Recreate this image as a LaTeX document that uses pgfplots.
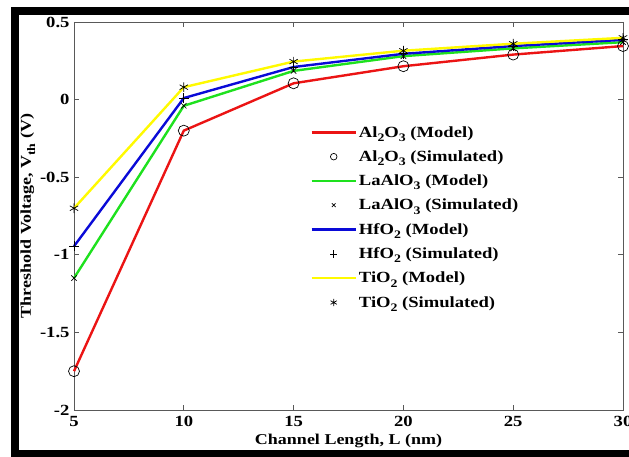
\documentclass[border=0pt]{standalone}
\usepackage{fontspec}
\setmainfont{Liberation Serif}[FakeStretch=1.2]
\usepackage{pgfplots}
\pgfplotsset{compat=1.18}
\newcommand{\sub}[1]{\raisebox{-0.6ex}{\fontsize{11.5}{11.5}\selectfont #1}}
\definecolor{mred}{RGB}{235,20,20}
\definecolor{mgreen}{RGB}{30,225,30}
\definecolor{mblue}{RGB}{10,10,215}
\definecolor{myellow}{RGB}{255,250,0}
\pgfplotsset{
  linleg/.style={legend image code/.code={\draw[##1] (0pt,0pt) -- (44pt,0pt);}},
  markleg/.style={legend image code/.code={\draw[##1, mark size=#1] plot coordinates {(22pt,0pt)};}},
}
\begin{document}
\begin{tikzpicture}
\begin{axis}[
  width=549pt, height=388pt, scale only axis,
  xmin=5, xmax=30, ymin=-2, ymax=0.5,
  xtick={5,10,15,20,25,30},
  xticklabels={5,10,15,20,25,30},
  ytick={-2,-1.5,-1,-0.5,0,0.5},
  yticklabels={-2,-1.5,-1,-0.5,0,0.5},
  tick align=inside,
  major tick length=5pt,
  axis line style={gray!70!black, line width=0.7pt},
  every tick/.style={gray!70!black, line width=0.7pt},
  tick label style={font=\fontsize{15.5}{18}\selectfont\bfseries},
  xticklabel style={yshift=-3pt},
  yticklabel style={xshift=-1pt},
  xlabel={Channel Length, L (nm)},
  ylabel={Threshold Voltage, V\sub{th} (V)},
  label style={font=\fontsize{15}{18}\selectfont\bfseries},
  xlabel style={at={(axis description cs:0.5,-0.0902)}, anchor=base},
  ylabel style={at={(axis description cs:-0.084,0.5)}, anchor=center},
  clip=false,
  legend cell align=left,
  legend style={draw=none, fill=none, at={(axis description cs:0.425,0.742)}, anchor=north west,
    font=\fontsize{15.5}{18}\selectfont\bfseries, row sep=8pt},
  mark options={solid, black, line width=0.7pt},
]
\coordinate (SW) at (rel axis cs:0,0);
\addplot[mred, line width=2.4pt, linleg]
  coordinates {(5,-1.75)(10,-0.2)(15,0.105)(20,0.215)(25,0.29)(30,0.345)};
\addlegendentry{Al\sub{2}O\sub{3} (Model)}
\addplot[only marks, mark=o, mark size=5.5pt, markleg=3.3pt]
  coordinates {(5,-1.75)(10,-0.2)(15,0.105)(20,0.215)(25,0.29)(30,0.345)};
\addlegendentry{Al\sub{2}O\sub{3} (Simulated)}
\addplot[mgreen, line width=2.4pt, linleg]
  coordinates {(5,-1.15)(10,-0.04)(15,0.185)(20,0.28)(25,0.33)(30,0.37)};
\addlegendentry{LaAlO\sub{3} (Model)}
\addplot[only marks, mark=x, mark size=3.8pt, markleg=2.6pt]
  coordinates {(5,-1.15)(10,-0.04)(15,0.185)(20,0.28)(25,0.33)(30,0.37)};
\addlegendentry{LaAlO\sub{3} (Simulated)}
\addplot[mblue, line width=2.4pt, linleg]
  coordinates {(5,-0.945)(10,0.01)(15,0.21)(20,0.295)(25,0.345)(30,0.385)};
\addlegendentry{HfO\sub{2} (Model)}
\addplot[only marks, mark=+, mark size=4.8pt, markleg=3.6pt]
  coordinates {(5,-0.945)(10,0.01)(15,0.21)(20,0.295)(25,0.345)(30,0.385)};
\addlegendentry{HfO\sub{2} (Simulated)}
\addplot[myellow, line width=2.4pt, linleg]
  coordinates {(5,-0.70)(10,0.08)(15,0.245)(20,0.315)(25,0.36)(30,0.398)};
\addlegendentry{TiO\sub{2} (Model)}
\addplot[only marks, mark=asterisk, mark size=4.8pt, markleg=3.6pt]
  coordinates {(5,-0.70)(10,0.08)(15,0.245)(20,0.315)(25,0.36)(30,0.398)};
\addlegendentry{TiO\sub{2} (Simulated)}
\end{axis}
\pgfresetboundingbox
\begin{scope}[shift={(SW)}, x=1pt, y=1pt]
\useasboundingbox (-74,-47) rectangle (555,410);
\fill[black] (-63,-47) rectangle (555,-40);
\fill[black] (-63,-47) rectangle (-55,403);
\fill[black] (-63,395) rectangle (555,403);
\end{scope}
\end{tikzpicture}
\end{document}
